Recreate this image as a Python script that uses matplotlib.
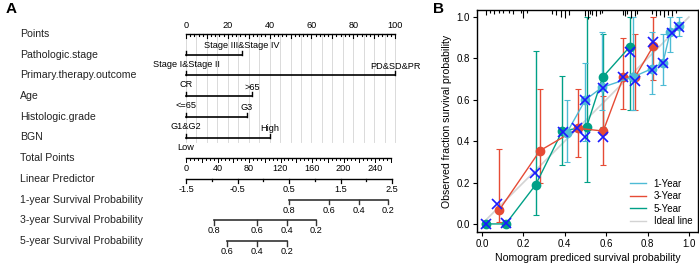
import matplotlib
matplotlib.use("Agg")
import matplotlib.pyplot as plt
import numpy as np

plt.rcParams['font.family'] = ['Liberation Sans', 'DejaVu Sans']

# ---------------- panel A data (nomogram) ----------------
row_names = ["Points", "Pathologic.stage", "Primary.therapy.outcome", "Age",
             "Histologic.grade", "BGN", "Total Points", "Linear Predictor",
             "1-year Survival Probability", "3-year Survival Probability",
             "5-year Survival Probability"]

# variable rows: (low label, high label, points of high level)
var_low = ["Stage I&Stage II", "CR", "<=65", "G1&G2", "Low"]
var_high = ["Stage III&Stage IV", "PD&SD&PR", ">65", "G3", "High"]
var_pts = [26.8, 100, 31.6, 29.2, 40.2]

points_ticks = [0, 20, 40, 60, 80, 100]
total_ticks = [0, 40, 80, 120, 160, 200, 240]
total_max = 260
total_per_pt = 0.3768          # points per total point
lp_ticks = [-1.5, -0.5, 0.5, 1.5, 2.5]
lp_min, lp_max = -1.5, 2.5

# survival probability scales: label -> linear predictor value
surv1_lab = ["0.8", "0.6", "0.4", "0.2"]
surv1_lp = [0.50, 1.28, 1.86, 2.42]
surv3_lab = ["0.8", "0.6", "0.4", "0.2"]
surv3_lp = [-0.96, -0.12, 0.46, 1.02]
surv5_lab = ["0.6", "0.4", "0.2"]
surv5_lp = [-0.70, -0.12, 0.46]

# ---------------- panel B data (calibration) ----------------
x1 = [0.41, 0.50, 0.58, 0.73, 0.82, 0.875, 0.91, 0.95]
y1 = [0.44, 0.60, 0.66, 0.71, 0.75, 0.78, 0.93, 0.955]
lo1 = [0.30, 0.40, 0.55, 0.55, 0.63, 0.67, 0.83, 0.91]
hi1 = [0.60, 0.78, 0.93, 1.00, 0.93, 0.92, 1.00, 1.00]

x3 = [0.084, 0.28, 0.465, 0.586, 0.683, 0.739, 0.828]
y3 = [0.068, 0.354, 0.462, 0.449, 0.709, 0.709, 0.86]
lo3 = [0.011, 0.197, 0.325, 0.285, 0.554, 0.55, 0.696]
hi3 = [0.361, 0.651, 0.651, 0.62, 0.90, 0.92, 1.00]

x5 = [0.02, 0.115, 0.26, 0.388, 0.506, 0.583, 0.715]
y5 = [0.0, 0.0, 0.19, 0.449, 0.47, 0.709, 0.857]
lo5 = [0.0, 0.0, 0.043, 0.285, 0.204, 0.47, 0.55]
hi5 = [0.0, 0.0, 0.837, 0.715, 1.00, 0.92, 1.00]

xc = [0.02, 0.075, 0.115, 0.255, 0.39, 0.46, 0.497, 0.497, 0.586, 0.583, 0.683,
      0.739, 0.715, 0.82, 0.828, 0.876, 0.916, 0.953]
yc = [0.0, 0.095, 0.005, 0.245, 0.446, 0.465, 0.422, 0.60, 0.419, 0.655, 0.709,
      0.693, 0.832, 0.744, 0.877, 0.776, 0.921, 0.953]

rug_x = [0.02, 0.04, 0.06, 0.08, 0.10, 0.13, 0.15, 0.19, 0.20, 0.22,
         0.34, 0.36, 0.38, 0.40, 0.42,
         0.50, 0.51, 0.52, 0.53, 0.55, 0.57, 0.58,
         0.68, 0.69, 0.70, 0.72, 0.74, 0.75,
         0.82, 0.84, 0.86, 0.88, 0.90, 0.92, 0.94]
rug_len = [5, 3, 4, 3, 3, 3, 4, 3, 8, 3,
           4, 5, 7, 8, 5,
           6, 9, 4, 5, 6, 4, 3,
           5, 6, 4, 8, 6, 4,
           4, 6, 5, 7, 5, 6, 3]

c1, c3, c5 = "#4DBBD5", "#E64B35", "#00A087"

W, H = 699, 270
fig = plt.figure(figsize=(W / 100, H / 100), dpi=100)

# ---------------- panel A ----------------
px_per_pt = 2.09
x0_px = 186
row0_px, row_step = 34, 20.7
axA = fig.add_axes([0, 0, 450 / W, 1])
axA.set_xlim(-x0_px / px_per_pt, (450 - x0_px) / px_per_pt)
axA.set_ylim((H - row0_px) / row_step, -row0_px / row_step)
axA.axis("off")
r = 1 / row_step   # one pixel in row units
fs_lab, fs_tk = 7.6, 6.6

for i, name in enumerate(row_names):
    axA.text(-79.4, i, name, fontsize=fs_lab, va="center", ha="left", color="#222222")

# vertical grid
for g in np.arange(0, 101, 5):
    axA.plot([g, g], [0, 5.2], color="#d4d4d4", lw=0.6, zorder=0)

# points axis
axA.plot([0, 100], [0, 0], color="black", lw=1)
for t in np.arange(0, 101, 2):
    ln = 4 if t % 10 == 0 else 2
    axA.plot([t, t], [0, ln * r], color="black", lw=0.8)
for t in points_ticks:
    axA.text(t, -8 * r, str(t), fontsize=fs_tk, ha="center", va="center")

# variable rows
for k in range(len(var_pts)):
    row = k + 1
    axA.plot([0, var_pts[k]], [row, row], color="black", lw=1.2)
    for p in (0, var_pts[k]):
        axA.plot([p, p], [row, row - 4 * r], color="black", lw=1)
    axA.text(var_pts[k], row - 9 * r, var_high[k], fontsize=fs_tk, ha="center", va="center")
    axA.text(0, row + 9.5 * r, var_low[k], fontsize=fs_tk, ha="center", va="center")

# total points
row = 6
tp_end = total_max * total_per_pt
axA.plot([0, tp_end], [row, row], color="black", lw=1)
for t in np.arange(0, total_max + 1, 5):
    ln = 3.5 if t % 20 == 0 else 2
    axA.plot([t * total_per_pt] * 2, [row, row + ln * r], color="black", lw=0.7)
for t in total_ticks:
    axA.text(t * total_per_pt, row + 10 * r, str(t), fontsize=fs_tk, ha="center", va="center")


def lp_to_pts(v):
    return (np.asarray(v) - lp_min) / (lp_max - lp_min) * 98.6


# linear predictor
row = 7
axA.plot([lp_to_pts(lp_min), lp_to_pts(lp_max)], [row, row], color="black", lw=1)
for t in np.arange(lp_min, lp_max + 0.01, 0.5):
    ln = 4.5 if np.isclose((t + 1.5) % 1, 0) else 2.5
    axA.plot([lp_to_pts(t)] * 2, [row, row + ln * r], color="black", lw=0.9)
for t in lp_ticks:
    axA.text(lp_to_pts(t), row + 10.5 * r, f"{t:g}", fontsize=fs_tk, ha="center", va="center")

# survival scales
for row, labs, lps in ((8, surv1_lab, surv1_lp), (9, surv3_lab, surv3_lp), (10, surv5_lab, surv5_lp)):
    xs = lp_to_pts(lps)
    axA.plot([xs.min(), xs.max()], [row, row], color="#333333", lw=1.2)
    for xv, lb in zip(xs, labs):
        axA.plot([xv, xv], [row, row + 4.5 * r], color="#333333", lw=1)
        axA.text(xv, row + 10.5 * r, lb, fontsize=fs_tk, ha="center", va="center")

fig.text(6 / W, 1 - 9 / H, "A", fontsize=11, fontweight="bold", ha="left", va="center")
fig.text(433 / W, 1 - 9 / H, "B", fontsize=11, fontweight="bold", ha="left", va="center")

# ---------------- panel B ----------------
axB = fig.add_axes([477 / W, (H - 232) / H, (698 - 477) / W, (232 - 10) / H])
axB.set_xlim(-0.024, 1.044)
axB.set_ylim(-0.039, 1.034)

axB.plot([0, 1], [0, 1], color="#d3d3d3", lw=1.2, zorder=1)

for xs, ys, lo, hi, c in ((x5, y5, lo5, hi5, c5), (x3, y3, lo3, hi3, c3), (x1, y1, lo1, hi1, c1)):
    xs, ys = np.array(xs), np.array(ys)
    err = [ys - np.array(lo), np.array(hi) - ys]
    axB.errorbar(xs, ys, yerr=err, fmt="none", ecolor=c, elinewidth=1, capsize=2, capthick=0.8, zorder=2)
    axB.plot(xs, ys, color=c, lw=1, marker="o", ms=6, zorder=3)

axB.plot(xc, yc, ls="none", marker="x", ms=7, mew=1.2, color="#1a1aff", zorder=4)

rug_top = axB.get_ylim()[1]
px_y = 1 / 207
axB.vlines(rug_x, rug_top - np.array(rug_len) * px_y, rug_top, color="black", lw=0.8, zorder=5)

axB.set_xticks(np.arange(0, 1.01, 0.2))
axB.set_yticks(np.arange(0, 1.01, 0.2))
axB.xaxis.set_major_formatter(matplotlib.ticker.FormatStrFormatter("%.1f"))
axB.yaxis.set_major_formatter(matplotlib.ticker.FormatStrFormatter("%.1f"))
axB.tick_params(labelsize=7, length=3, width=0.8, pad=2)
for s in axB.spines.values():
    s.set_linewidth(1)
axB.set_xlabel("Nomogram prediced survival probability", fontsize=7.6, labelpad=3)
axB.set_ylabel("Observed fraction survival probability", fontsize=7.6, labelpad=3)

from matplotlib.lines import Line2D
handles = [Line2D([], [], color=c1, lw=1), Line2D([], [], color=c3, lw=1),
           Line2D([], [], color=c5, lw=1), Line2D([], [], color="#d3d3d3", lw=1)]
axB.legend(handles, ["1-Year", "3-Year", "5-Year", "Ideal line"], loc="lower right",
           frameon=False, fontsize=7, handlelength=1.6, labelspacing=0.25,
           borderaxespad=0.2, handletextpad=0.8)

fig.savefig("out.png", dpi=100)
